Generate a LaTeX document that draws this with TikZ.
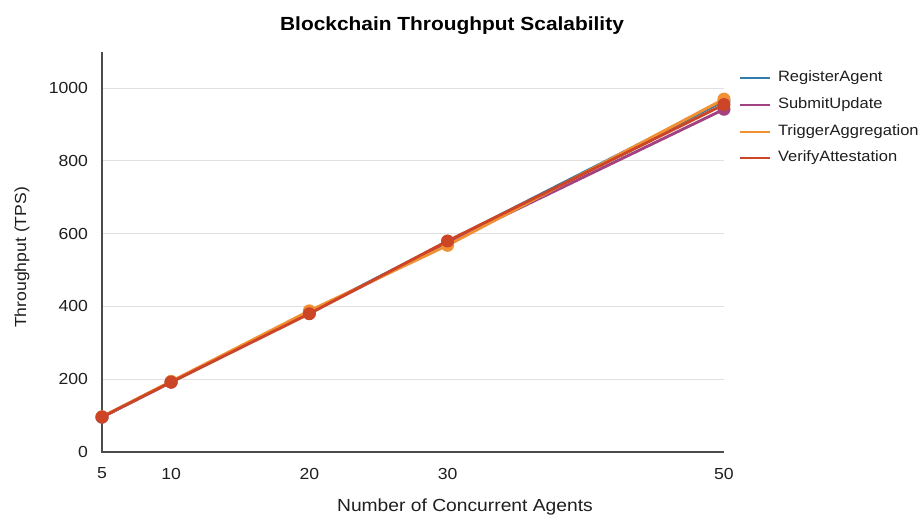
\documentclass[tikz,border=0pt]{standalone}
\usepackage{fontspec}
\setmainfont{Liberation Sans}[FakeStretch=1.1]

\begin{document}
\begin{tikzpicture}[x=1pt,y=1pt,
  series/.style={line width=2.9pt,line join=round,line cap=round},
  gridline/.style={draw=gridcolor,line width=1pt},
  axisline/.style={draw=axiscolor,line width=1.6pt},
  ticklabel/.style={inner sep=0pt,outer sep=0pt,text=black!88,font=\fontsize{16}{19}\selectfont},
  legtext/.style={anchor=west,inner sep=0pt,outer sep=0pt,text=black!88,font=\fontsize{15}{18}\selectfont}]
\definecolor{regcolor}{rgb}{0.200000, 0.490000, 0.670000}
\definecolor{subcolor}{rgb}{0.640000, 0.260000, 0.500000}
\definecolor{trgcolor}{rgb}{0.950000, 0.570000, 0.200000}
\definecolor{vercolor}{rgb}{0.800000, 0.270000, 0.150000}
\definecolor{axiscolor}{rgb}{0.300000, 0.300000, 0.300000}
\definecolor{gridcolor}{rgb}{0.880000, 0.880000, 0.880000}
\useasboundingbox[fill=white] (0,0) rectangle (922,516);

% title
\node[inner sep=0pt,font=\bfseries\fontsize{19}{22}\selectfont] (title) at (452,490) {Blockchain Throughput Scalability};

\begin{scope}[shift={(32.89pt,64pt)},x=13.822pt,y=0.3638pt]
% grid
\coordinate (g2a) at (5,200);  \coordinate (g2b) at (50,200);
\coordinate (g4a) at (5,400);  \coordinate (g4b) at (50,400);
\coordinate (g6a) at (5,600);  \coordinate (g6b) at (50,600);
\coordinate (g8a) at (5,800);  \coordinate (g8b) at (50,800);
\coordinate (g10a) at (5,1000); \coordinate (g10b) at (50,1000);
\draw[gridline] (g2a) -- (g2b);
\draw[gridline] (g4a) -- (g4b);
\draw[gridline] (g6a) -- (g6b);
\draw[gridline] (g8a) -- (g8b);
\draw[gridline] (g10a) -- (g10b);

% axes
\coordinate (origin) at (5,0);
\coordinate (ytop) at (5,1100);
\coordinate (xend) at (50,0);
\draw[axisline] (ytop) -- (origin) -- (xend);

% y ticks
\node[ticklabel,anchor=east] (y0) at ([xshift=-14pt]origin) {0};
\node[ticklabel,anchor=east] (y200) at ([xshift=-14pt]g2a) {200};
\node[ticklabel,anchor=east] (y400) at ([xshift=-14pt]g4a) {400};
\node[ticklabel,anchor=east] (y600) at ([xshift=-14pt]g6a) {600};
\node[ticklabel,anchor=east] (y800) at ([xshift=-14pt]g8a) {800};
\node[ticklabel,anchor=east] (y1000) at ([xshift=-14pt]g10a) {1000};

% x ticks
\node[ticklabel] (x5) at ([yshift=-21.5pt]5,0) {5};
\node[ticklabel] (x10) at ([yshift=-21.5pt]10,0) {10};
\node[ticklabel] (x20) at ([yshift=-21.5pt]20,0) {20};
\node[ticklabel] (x30) at ([yshift=-21.5pt]30,0) {30};
\node[ticklabel] (x50) at ([yshift=-21.5pt]50,0) {50};

% axis titles
\node[inner sep=0pt,text=black!88,font=\fontsize{17.5}{20}\selectfont] (xlabel) at ([yshift=-55pt]31.26,0) {Number of Concurrent Agents};
\node[inner sep=0pt,text=black!88,rotate=90,font=\fontsize{16}{19}\selectfont] (ylabel) at ([xshift=-80pt]5,535) {Throughput (TPS)};

% RegisterAgent
\draw[series,regcolor] (5,96) -- (10,193) -- (20,383) -- (30,578) -- (50,965);
\fill[regcolor] (5,96) circle (6.5pt) (10,193) circle (6.5pt) (20,383) circle (6.5pt) (30,578) circle (6.5pt) (50,965) circle (6.5pt);
% SubmitUpdate
\draw[series,subcolor] (5,96) -- (10,192) -- (20,382) -- (30,575) -- (50,942);
\fill[subcolor] (5,96) circle (6.5pt) (10,192) circle (6.5pt) (20,382) circle (6.5pt) (30,575) circle (6.5pt) (50,942) circle (6.5pt);
% TriggerAggregation
\draw[series,trgcolor] (5,97) -- (10,194) -- (20,388) -- (30,568) -- (50,970);
\fill[trgcolor] (5,97) circle (6.5pt) (10,194) circle (6.5pt) (20,388) circle (6.5pt) (30,568) circle (6.5pt) (50,970) circle (6.5pt);
% VerifyAttestation
\draw[series,vercolor] (5,96) -- (10,192) -- (20,380) -- (30,580) -- (50,955);
\fill[vercolor] (5,96) circle (6.5pt) (10,192) circle (6.5pt) (20,380) circle (6.5pt) (30,580) circle (6.5pt) (50,955) circle (6.5pt);
\end{scope}

% legend
\node[legtext] (legreg) at (778,438) {RegisterAgent};
\node[legtext] (legsub) at (778,411) {SubmitUpdate};
\node[legtext] (legtrg) at (778,384) {TriggerAggregation};
\node[legtext] (legver) at (778,358) {VerifyAttestation};
\draw[series,line cap=butt,regcolor] ([xshift=-38pt]legreg.west) -- ([xshift=-8pt]legreg.west);
\draw[series,line cap=butt,subcolor] ([xshift=-38pt]legsub.west) -- ([xshift=-8pt]legsub.west);
\draw[series,line cap=butt,trgcolor] ([xshift=-38pt]legtrg.west) -- ([xshift=-8pt]legtrg.west);
\draw[series,line cap=butt,vercolor] ([xshift=-38pt]legver.west) -- ([xshift=-8pt]legver.west);
\end{tikzpicture}
\end{document}
